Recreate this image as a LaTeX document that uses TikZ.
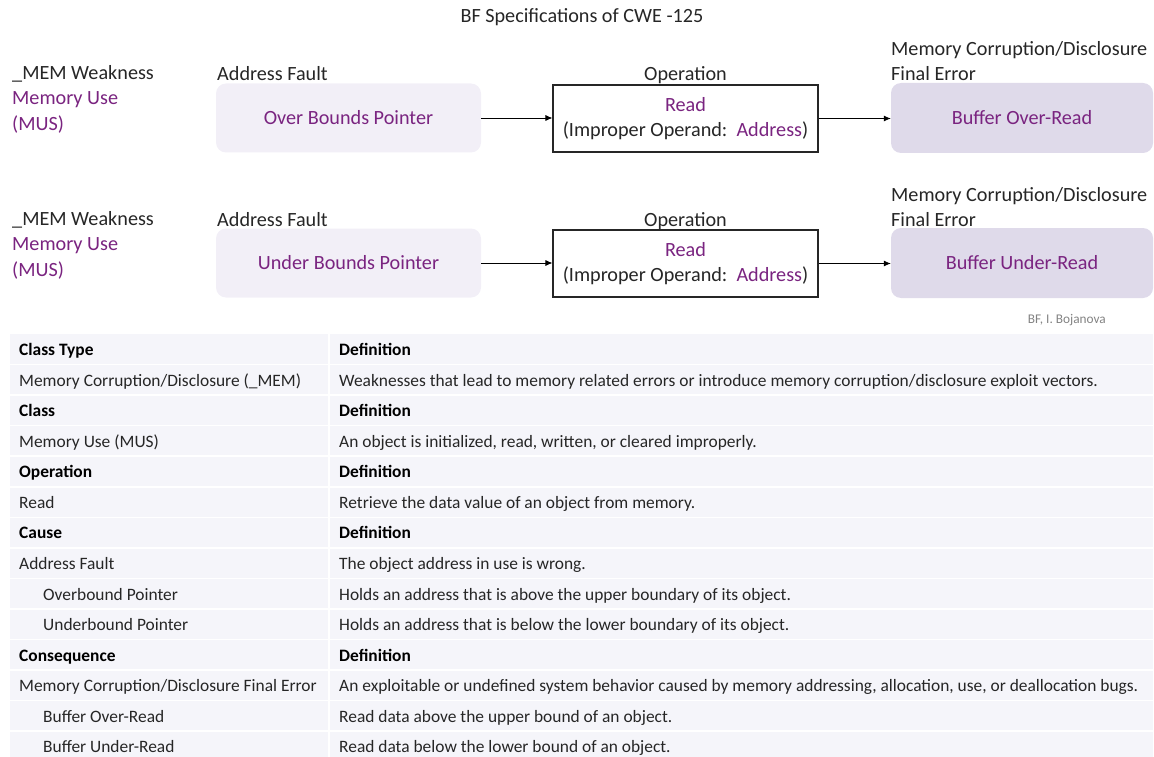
\documentclass[tikz,border=0pt]{standalone}
\usepackage{fontspec}
\setmainfont{Carlito}
\usetikzlibrary{arrows.meta}

\definecolor{ink}{RGB}{38,38,38}
\definecolor{accent}{RGB}{122,36,128}
\definecolor{faultfill}{RGB}{242,239,247}
\definecolor{errfill}{RGB}{223,218,234}
\definecolor{rowfill}{RGB}{245,245,250}
\definecolor{credit}{RGB}{130,130,130}

\tikzset{
  lbl/.style={font=\fontsize{20.2}{25}\selectfont, text=ink, inner sep=0pt, anchor=base west},
  faultbox/.style={rounded corners=10pt, fill=faultfill, minimum width=265pt, minimum height=69pt,
    inner sep=0pt, text=accent, font=\fontsize{20.2}{25}\selectfont},
  opbox/.style={draw=black!85, line width=1.1pt, fill=white, minimum width=265pt, minimum height=67pt,
    inner sep=0pt, align=center, text=ink, font=\fontsize{20.2}{25}\selectfont},
  errbox/.style={rounded corners=10pt, fill=errfill, minimum width=262pt, minimum height=70pt,
    inner sep=0pt, text=accent, font=\fontsize{20.2}{25}\selectfont},
  flow/.style={-{Latex[length=7pt,width=6pt]}, line width=0.8pt, draw=black},
  cell/.style={font=\fontsize{17.4}{20}\selectfont, text=ink, inner sep=0pt, anchor=base west},
  head/.style={font=\fontsize{17.4}{20}\selectfont\bfseries, text=black}
}

% one table row: index, x of first column text, first cell, second cell, extra style
\newcommand{\tabrow}[5]{%
  \node[cell,#5] (r#1a) at (#2, {355.6+30.55*#1}) {#3};
  \node[cell,#5] (r#1b) at (339, {355.6+30.55*#1}) {#4};
}

\begin{document}
\begin{tikzpicture}[x=1pt, y=-1pt]
\useasboundingbox (0,0) rectangle (1154,757);
\clip (0,0) rectangle (1154,757);

% title
\node[lbl, anchor=base] (title) at (582,23) {BF Specifications of CWE -125};

% ---- first flow: over bounds ----
\node[lbl] (wk1) at (12,80) {\_MEM Weakness};
\node[lbl, text=accent] (cl1) at (12,105) {Memory Use};
\node[lbl, text=accent] (ab1) at (12,131) {(MUS)};
\node[lbl] (af1) at (217,81) {Address Fault};
\node[lbl, anchor=base] (opl1) at (685.5,81) {Operation};
\node[lbl] (ce1) at (891,56) {Memory Corruption/Disclosure};
\node[lbl] (fe1) at (891,81) {Final Error};

\node[faultbox] (fault1) at (348.5,118) {Over Bounds Pointer};
\node[opbox] (op1) at (685.5,118.5) {\textcolor{accent}{Read}\\(Improper Operand:\ \ \textcolor{accent}{Address})};
\node[errbox] (err1) at (1022,118) {Buffer Over-Read};

\draw[flow] (fault1.east) -- (fault1.east -| op1.west);
\draw[flow] (op1.east) -- (op1.east -| err1.west);

% ---- second flow: under bounds ----
\node[lbl] (wk2) at (12,225) {\_MEM Weakness};
\node[lbl, text=accent] (cl2) at (12,250) {Memory Use};
\node[lbl, text=accent] (ab2) at (12,276) {(MUS)};
\node[lbl] (af2) at (217,226) {Address Fault};
\node[lbl, anchor=base] (opl2) at (685.5,226) {Operation};
\node[lbl] (ce2) at (891,201) {Memory Corruption/Disclosure};
\node[lbl] (fe2) at (891,226) {Final Error};

\node[faultbox] (fault2) at (348.5,263) {Under Bounds Pointer};
\node[opbox] (op2) at (685.5,263.5) {\textcolor{accent}{Read}\\(Improper Operand:\ \ \textcolor{accent}{Address})};
\node[errbox] (err2) at (1022,263) {Buffer Under-Read};

\draw[flow] (fault2.east) -- (fault2.east -| op2.west);
\draw[flow] (op2.east) -- (op2.east -| err2.west);

\node[font=\fontsize{13.3}{15}\selectfont, text=credit, inner sep=0pt, anchor=base east] (credit) at (1106,323.5) {BF, I. Bojanova};

% ---- definitions table ----
\fill[rowfill] (10,334) rectangle (1153,762);
\foreach \i in {1,...,13}
  \draw[white, line width=1.6pt] (10,{334+30.55*\i}) -- (1153,{334+30.55*\i});
\draw[white, line width=1.6pt] (329,334) -- (329,762);

\tabrow{0}{19}{Class Type}{Definition}{head}
\tabrow{1}{19}{Memory Corruption/Disclosure (\_MEM)}{Weaknesses that lead to memory related errors or introduce memory corruption/disclosure exploit vectors.}{}
\tabrow{2}{19}{Class}{Definition}{head}
\tabrow{3}{19}{Memory Use (MUS)}{An object is initialized, read, written, or cleared improperly.}{}
\tabrow{4}{19}{Operation}{Definition}{head}
\tabrow{5}{19}{Read}{Retrieve the data value of an object from memory.}{}
\tabrow{6}{19}{Cause}{Definition}{head}
\tabrow{7}{19}{Address Fault}{The object address in use is wrong.}{}
\tabrow{8}{43}{Overbound Pointer}{Holds an address that is above the upper boundary of its object.}{}
\tabrow{9}{43}{Underbound Pointer}{Holds an address that is below the lower boundary of its object.}{}
\tabrow{10}{19}{Consequence}{Definition}{head}
\tabrow{11}{19}{Memory Corruption/Disclosure Final Error}{An exploitable or undefined system behavior caused by memory addressing, allocation, use, or deallocation bugs.}{}
\tabrow{12}{43}{Buffer Over-Read}{Read data above the upper bound of an object.}{}
\tabrow{13}{43}{Buffer Under-Read}{Read data below the lower bound of an object.}{}
\end{tikzpicture}
\end{document}
